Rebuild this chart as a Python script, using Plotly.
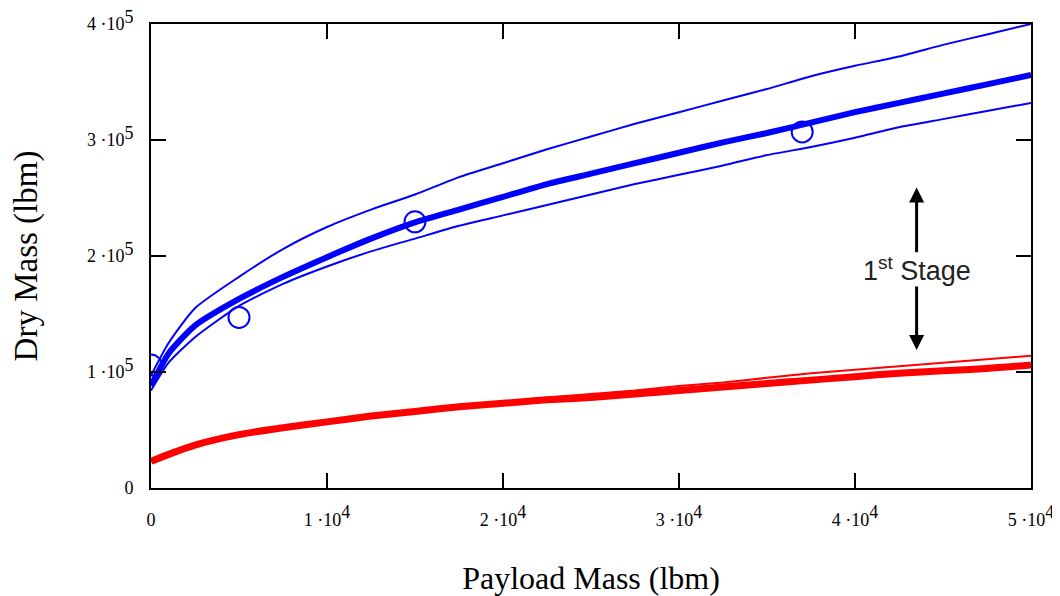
import plotly.graph_objects as go

# Payload mass (lbm)
payload = [0, 1000, 2500, 5000, 7500, 10000, 12500, 15000, 17500, 20000, 22500,
           25000, 27500, 30000, 32500, 35000, 37500, 40000, 42500, 45000, 47500, 50000]

# Dry mass (lbm) - 1st stage curves (blue)
blue_mid = [88e3, 116e3, 140e3, 163e3, 182e3, 199e3, 215e3, 229e3, 240e3, 251e3, 262e3,
            271e3, 280e3, 289e3, 298e3, 306e3, 315e3, 324e3, 332e3, 340e3, 348e3, 356e3]
blue_upper = [97e3, 125e3, 155e3, 182e3, 206e3, 225e3, 240e3, 253e3, 268e3, 280e3, 292e3,
              303e3, 314e3, 324e3, 334e3, 344e3, 355e3, 364e3, 372e3, 382e3, 391e3, 400e3]
blue_lower = [84e3, 108e3, 130e3, 157e3, 176e3, 191e3, 204e3, 215e3, 226e3, 235e3, 244e3,
              253e3, 262e3, 270e3, 278e3, 287e3, 294e3, 302e3, 311e3, 318e3, 325e3, 332e3]

# Dry mass (lbm) - upper stage curves (red)
red_thick = [23e3, 29e3, 37e3, 46e3, 52e3, 57e3, 62e3, 66e3, 70e3, 73e3, 76e3,
             78e3, 81e3, 84e3, 87e3, 90e3, 93e3, 96e3, 99e3, 101e3, 103e3, 106e3]
red_thin = [23e3, 29e3, 37e3, 46e3, 52e3, 57e3, 62e3, 66e3, 70e3, 74e3, 78e3,
            81e3, 84e3, 88e3, 91e3, 95e3, 99e3, 102e3, 105e3, 108e3, 111e3, 114e3]

# Data points (circles)
pts_x = [0, 5000, 15000, 37000]
pts_y = [106e3, 147e3, 229.5e3, 307e3]

# Ticks
SUP = '<sup><span style="font-size:18px">{}</span></sup>'
xtick_vals = [0, 10000, 20000, 30000, 40000, 50000]
xtick_text = ["0"] + ["%d ·10" % k + SUP.format(4) for k in [1, 2, 3, 4, 5]]
ytick_vals = [0, 100000, 200000, 300000, 400000]
ytick_text = ["0"] + ["%d ·10" % k + SUP.format(5) for k in [1, 2, 3, 4]]

fig = go.Figure()
fig.add_trace(go.Scatter(x=payload, y=red_thick, mode="lines",
                         line=dict(color="#ff0000", width=7, shape="spline", smoothing=0.6),
                         showlegend=False))
fig.add_trace(go.Scatter(x=payload, y=red_thin, mode="lines",
                         line=dict(color="#ff0000", width=2, shape="spline", smoothing=0.6),
                         showlegend=False))
fig.add_trace(go.Scatter(x=payload, y=blue_upper, mode="lines",
                         line=dict(color="#0000ff", width=2, shape="spline", smoothing=0.6),
                         showlegend=False))
fig.add_trace(go.Scatter(x=payload, y=blue_lower, mode="lines",
                         line=dict(color="#0000ff", width=2, shape="spline", smoothing=0.6),
                         showlegend=False))
fig.add_trace(go.Scatter(x=payload, y=blue_mid, mode="lines",
                         line=dict(color="#0000ff", width=6, shape="spline", smoothing=0.6),
                         showlegend=False))
fig.add_trace(go.Scatter(x=pts_x, y=pts_y, mode="markers", cliponaxis=True,
                         marker=dict(symbol="circle-open", size=21, color="#0000ff",
                                     line=dict(width=2, color="#0000ff")),
                         showlegend=False))

# "1st Stage" label with arrows
fig.add_annotation(x=43500, y=189000, xref="x", yref="y", showarrow=False,
                   text="1<sup>st</sup> Stage",
                   font=dict(family="Liberation Sans", size=27, color="#222222"))
fig.add_annotation(x=43500, y=259000, ax=43500, ay=202000, xref="x", yref="y",
                   axref="x", ayref="y", text="", showarrow=True,
                   arrowhead=2, arrowsize=1, arrowwidth=3, arrowcolor="black")
fig.add_annotation(x=43500, y=119000, ax=43500, ay=175000, xref="x", yref="y",
                   axref="x", ayref="y", text="", showarrow=True,
                   arrowhead=2, arrowsize=1, arrowwidth=3, arrowcolor="black")

axis_common = dict(showline=True, linecolor="black", linewidth=2, mirror="ticks",
                   ticks="inside", ticklen=15, tickwidth=2, tickcolor="black",
                   showgrid=False, zeroline=False, automargin=False,
                   ticklabeloverflow="allow",
                   tickfont=dict(family="Liberation Serif", size=18, color="black"))

fig.update_xaxes(range=[0, 50000], tickvals=xtick_vals, ticktext=xtick_text,
                 ticklabelstandoff=14,
                 title=dict(text="Payload Mass (lbm)", standoff=38,
                            font=dict(family="Liberation Serif", size=32, color="black")),
                 **axis_common)
fig.update_yaxes(range=[0, 400000], tickvals=ytick_vals, ticktext=ytick_text,
                 ticklabelstandoff=12,
                 title=dict(text="Dry Mass (lbm)", standoff=46,
                            font=dict(family="Liberation Serif", size=33, color="black")),
                 **axis_common)

# the page body adds an 8px offset; margins compensate for it
fig.update_layout(width=1060, height=596, plot_bgcolor="white", paper_bgcolor="white",
                  margin=dict(l=143, r=37, t=16, b=116), showlegend=False)

fig.write_html("out.html")
